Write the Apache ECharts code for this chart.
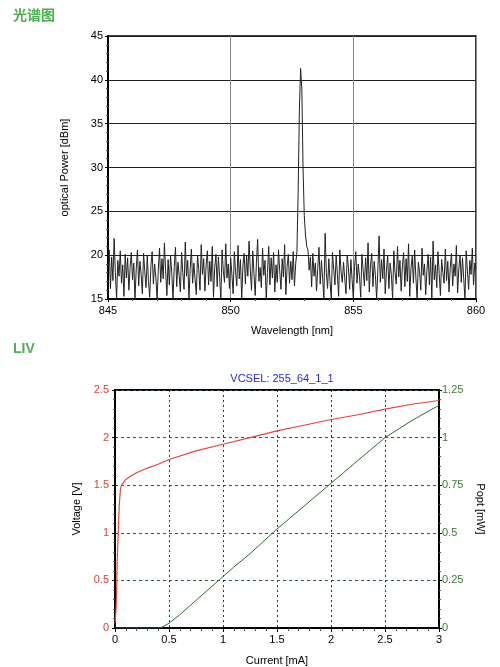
<!DOCTYPE html>
<html>
<head>
<meta charset="utf-8">
<script src="https://cdn.jsdelivr.net/npm/echarts@6/dist/echarts.min.js"></script>
<style>
  html, body { margin: 0; padding: 0; background: #fff; }
  #chart { width: 500px; height: 667px; }
</style>
</head>
<body>
<div id="chart"></div>
<script>
// spectrum: sampled every 0.05 nm from 845 nm
const wlStart = 845;
const wlStep = 0.05;
const spectrum = [
  18.5,20.6,16.2,19.8,17.1,21.9,18.0,15.0,19.4,17.6,20.5,16.8,18.9,15.3,20.1,17.4,19.7,16.0,18.6,20.3,
  17.2,19.1,15.0,18.4,20.6,16.5,19.3,17.8,15.6,20.2,18.1,16.3,19.9,17.0,15.2,18.8,20.4,16.7,19.0,17.5,
  15.0,18.3,20.8,16.9,19.6,17.3,21.4,18.2,15.4,19.5,16.6,20.0,17.9,15.0,18.7,20.9,16.4,19.2,17.7,15.8,
  20.3,18.0,16.1,21.5,17.6,19.4,15.0,18.5,20.7,16.8,19.1,17.2,15.5,20.0,18.4,16.0,21.2,17.8,19.6,15.9,
  18.9,20.5,16.6,19.3,17.0,21.0,15.2,18.6,20.1,16.4,19.8,17.5,15.0,20.6,18.2,16.9,21.3,17.4,19.0,16.2,
  19.7,17.8,15.6,20.4,18.1,16.5,21.1,17.3,19.5,15.0,18.8,20.2,16.7,19.9,17.6,21.6,18.3,16.0,20.5,17.9,
  15.4,19.2,21.8,17.0,18.6,16.3,20.8,17.7,19.4,15.1,18.0,21.0,16.6,19.7,17.4,20.3,15.8,18.9,16.9,20.6,
  18.2,16.1,19.6,17.5,21.2,15.5,18.7,20.1,16.8,19.3,17.2,20.4,16.5,19.0,20.4,27.0,36.5,41.3,39.0,30.0,
  24.5,22.3,21.0,20.6,18.3,19.8,16.4,20.2,17.6,19.1,15.9,18.5,20.9,16.7,19.4,17.3,15.0,22.5,18.0,16.2,
  19.6,17.0,15.0,20.3,18.4,16.6,19.9,17.8,15.3,20.6,18.1,16.9,19.2,17.4,15.6,20.0,18.6,16.1,19.5,17.2,
  15.0,18.7,20.4,16.8,19.0,17.6,15.2,20.1,18.3,16.5,19.7,17.1,21.4,15.8,18.9,20.2,16.4,19.3,17.7,15.0,
  18.4,22.2,16.9,19.5,17.3,20.7,15.6,18.2,20.0,16.2,19.1,17.8,15.0,20.5,18.0,16.7,21.0,17.5,19.4,15.9,
  18.8,20.3,16.4,19.6,17.0,21.3,15.3,18.5,19.9,16.8,20.6,17.4,15.0,19.2,18.1,16.0,20.8,17.7,19.0,15.5,
  18.3,20.1,16.6,19.8,15.0,21.6,17.2,18.9,16.3,20.4,17.9,15.4,19.5,18.0,16.8,20.7,17.1,19.3,15.8,18.6,
  20.2,16.5,19.0,17.6,21.1,15.7,18.4,20.0,16.9,19.7,17.3,15.0,20.5,18.2,16.1,19.4,17.8,20.8,16.6,19.1,
  18.5
];

// LIV
const currentV = [0, 0.01, 0.015, 0.02, 0.03, 0.04, 0.05, 0.06, 0.08, 0.1, 0.15, 0.2, 0.3, 0.4, 0.5, 0.75, 1.0, 1.25, 1.5, 1.75, 2.0, 2.25, 2.5, 2.75, 3.0];
const voltage  = [0.05, 0.2, 0.4, 0.7, 1.0, 1.3, 1.45, 1.5, 1.53, 1.56, 1.6, 1.63, 1.68, 1.72, 1.77, 1.86, 1.93, 2.0, 2.07, 2.13, 2.19, 2.24, 2.3, 2.35, 2.39];
const currentP = [0, 0.42, 0.5, 0.6, 0.75, 0.9, 1.0, 1.1, 1.25, 1.5, 1.75, 2.0, 2.25, 2.5, 2.75, 3.0];
const power    = [0, 0, 0.025, 0.07, 0.145, 0.22, 0.27, 0.32, 0.39, 0.52, 0.64, 0.76, 0.88, 1.0, 1.09, 1.17];

const font = "'Liberation Sans', Arial, sans-serif";
const chart = echarts.init(document.getElementById('chart'));

let specData = spectrum.map((v, i) => [wlStart + i * wlStep, v]);
let vData = currentV.map((c, i) => [c, voltage[i]]);
let pData = currentP.map((c, i) => [c, power[i]]);

let option = {
  animation: false,
  title: [
    { text: '光谱图', left: 8, top: 3, textStyle: { color: '#4caf50', fontSize: 14, fontWeight: 'bold', fontFamily: "'Noto Sans CJK SC', sans-serif" } },
    { text: 'LIV', left: 8, top: 337, textStyle: { color: '#4caf50', fontSize: 14, fontWeight: 'bold', fontFamily: font } },
    { text: 'VCSEL: 255_64_1_1', left: 277, textAlign: 'center', top: 368, textStyle: { color: '#2a2ad0', fontSize: 11, fontWeight: 'normal', fontFamily: font } }
  ],
  grid: [
    { left: 108, right: 24, top: 36, bottom: 368, show: true, borderColor: '#000', borderWidth: 1.5 },
    { left: 115, right: 61, top: 390, bottom: 35, show: true, borderColor: '#000', borderWidth: 2 }
  ],
  xAxis: [
    {
      gridIndex: 0, type: 'value', min: 845, max: 860, interval: 5,
      name: 'Wavelength [nm]', nameLocation: 'middle', nameGap: 26,
      nameTextStyle: { color: '#000', fontSize: 11, fontFamily: font },
      axisLine: { lineStyle: { color: '#000', width: 2 } },
      axisTick: { show: true, length: 3, lineStyle: { color: '#000' } },
      minorTick: { show: true, splitNumber: 5, length: 2, lineStyle: { color: '#555' } },
      axisLabel: { color: '#000', fontSize: 11, fontFamily: font, margin: 6 },
      splitLine: { show: true, lineStyle: { color: '#888', width: 1 } }
    },
    {
      gridIndex: 1, type: 'value', min: 0, max: 3, interval: 0.5,
      name: 'Current [mA]', nameLocation: 'middle', nameGap: 27,
      nameTextStyle: { color: '#000', fontSize: 11, fontFamily: font },
      axisLine: { lineStyle: { color: '#000', width: 2 } },
      axisTick: { show: true, length: 4, lineStyle: { color: '#000' } },
      minorTick: { show: true, splitNumber: 5, length: 3, lineStyle: { color: '#555' } },
      axisLabel: { color: '#000', fontSize: 11, fontFamily: font, margin: 6 },
      splitLine: { show: true, lineStyle: { color: '#333', width: 1, type: [2, 3] } }
    }
  ],
  yAxis: [
    {
      gridIndex: 0, type: 'value', min: 15, max: 45, interval: 5,
      name: 'optical Power [dBm]', nameLocation: 'middle', nameGap: 38, nameRotate: 90,
      nameTextStyle: { color: '#000', fontSize: 11, fontFamily: font },
      axisLine: { show: true, lineStyle: { color: '#000', width: 2 } },
      axisTick: { show: true, length: 3, lineStyle: { color: '#000' } },
      minorTick: { show: true, splitNumber: 5, length: 2, lineStyle: { color: '#555' } },
      axisLabel: { color: '#000', fontSize: 11, fontFamily: font, margin: 5 },
      splitLine: { show: true, lineStyle: { color: '#222', width: 1 } }
    },
    {
      gridIndex: 1, type: 'value', min: 0, max: 2.5, interval: 0.5, position: 'left',
      name: 'Voltage [V]', nameLocation: 'middle', nameGap: 28, nameRotate: 90,
      nameTextStyle: { color: '#000', fontSize: 11, fontFamily: font },
      axisLine: { show: true, lineStyle: { color: '#000', width: 2 } },
      axisTick: { show: true, length: 3, lineStyle: { color: '#000' } },
      minorTick: { show: true, splitNumber: 5, length: 2, lineStyle: { color: '#555' } },
      axisLabel: { color: '#d9443a', fontSize: 11, fontFamily: font, margin: 6 },
      splitLine: { show: true, lineStyle: { color: '#2f5f2f', width: 1, type: [3, 3] } }
    },
    {
      gridIndex: 1, type: 'value', min: 0, max: 1.25, interval: 0.25, position: 'right',
      name: 'Popt [mW]', nameLocation: 'middle', nameGap: 36, nameRotate: -90,
      nameTextStyle: { color: '#000', fontSize: 11, fontFamily: font },
      axisLine: { show: true, lineStyle: { color: '#000', width: 2 } },
      axisTick: { show: true, length: 3, lineStyle: { color: '#000' } },
      minorTick: { show: true, splitNumber: 5, length: 2, lineStyle: { color: '#555' } },
      axisLabel: { color: '#3d7a3d', fontSize: 11, fontFamily: font, margin: 3 },
      splitLine: { show: false }
    }
  ],
  series: [
    {
      type: 'line', xAxisIndex: 0, yAxisIndex: 0, data: specData,
      showSymbol: false, lineStyle: { color: '#222', width: 1 }, clip: true
    },
    {
      type: 'line', xAxisIndex: 1, yAxisIndex: 1, data: vData,
      showSymbol: false, lineStyle: { color: '#e0463c', width: 1.2 }
    },
    {
      type: 'line', xAxisIndex: 1, yAxisIndex: 2, data: pData,
      showSymbol: false, lineStyle: { color: '#2e6e2e', width: 1 }
    }
  ]
};

chart.setOption(option);
</script>
</body>
</html>
